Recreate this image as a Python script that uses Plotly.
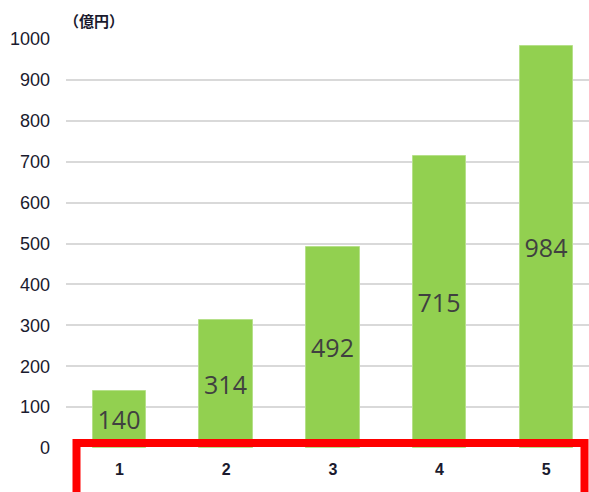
import plotly.graph_objects as go

# Sales by year (unit: 100 million yen)
categories = ["1", "2", "3", "4", "5"]
values = [140, 314, 492, 715, 984]
y_ticks = list(range(0, 1001, 100))

W, H = 589, 492
L, R, T, B = 66, 0, 39, 44
plot_w = W - L - R
plot_h = H - T - B

fig = go.Figure()
fig.add_trace(go.Bar(
    x=[int(c) for c in categories],
    y=values,
    width=0.5,
    marker=dict(color="#92d050", line=dict(color="#b6e08a", width=1)),
    text=[str(v) for v in values],
    textposition="inside",
    insidetextanchor="middle",
    textangle=0,
    textfont=dict(family="Open Sans, Liberation Sans, sans-serif", size=25, color="#404040"),
    cliponaxis=False,
))

# Highlight frame around the category labels
def px_x(p):
    return (p - L) / plot_w

def px_y(p):
    return (H - B - p) / plot_h

fig.add_shape(
    type="rect", xref="paper", yref="paper",
    x0=px_x(76.5), x1=px_x(584.5), y0=px_y(520), y1=px_y(443),
    line=dict(color="#ff0000", width=8), fillcolor="rgba(0,0,0,0)",
    layer="above",
)

fig.add_annotation(
    text="<b>（億円）</b>", xref="paper", yref="paper",
    x=px_x(62), y=px_y(20), xanchor="left", yanchor="middle",
    showarrow=False,
    font=dict(family="Noto Sans CJK JP, sans-serif", size=15, color="#1a1a2e"),
)

fig.update_layout(
    width=W, height=H,
    margin=dict(l=L, r=R, t=T, b=B, pad=0),
    paper_bgcolor="white", plot_bgcolor="white",
    showlegend=False,
    bargap=0,
    xaxis=dict(
        range=[0.5, 5.4],
        tickvals=[int(c) for c in categories],
        ticktext=[f"<b>{c}</b>" for c in categories],
        showgrid=False, zeroline=False, showline=False, ticks="",
        ticklabelstandoff=10,
        tickfont=dict(family="Liberation Sans, Arial, sans-serif", size=16, color="#1a1a2e"),
    ),
    yaxis=dict(
        range=[0, 1000],
        tickvals=y_ticks,
        showgrid=True, gridcolor="#d9d9d9", gridwidth=1.5,
        zeroline=False, showline=False, ticks="",
        ticklabelstandoff=15,
        tickfont=dict(family="Liberation Sans, Arial, sans-serif", size=18, color="#1a1a2e"),
    ),
)

fig.write_html("out.html")
